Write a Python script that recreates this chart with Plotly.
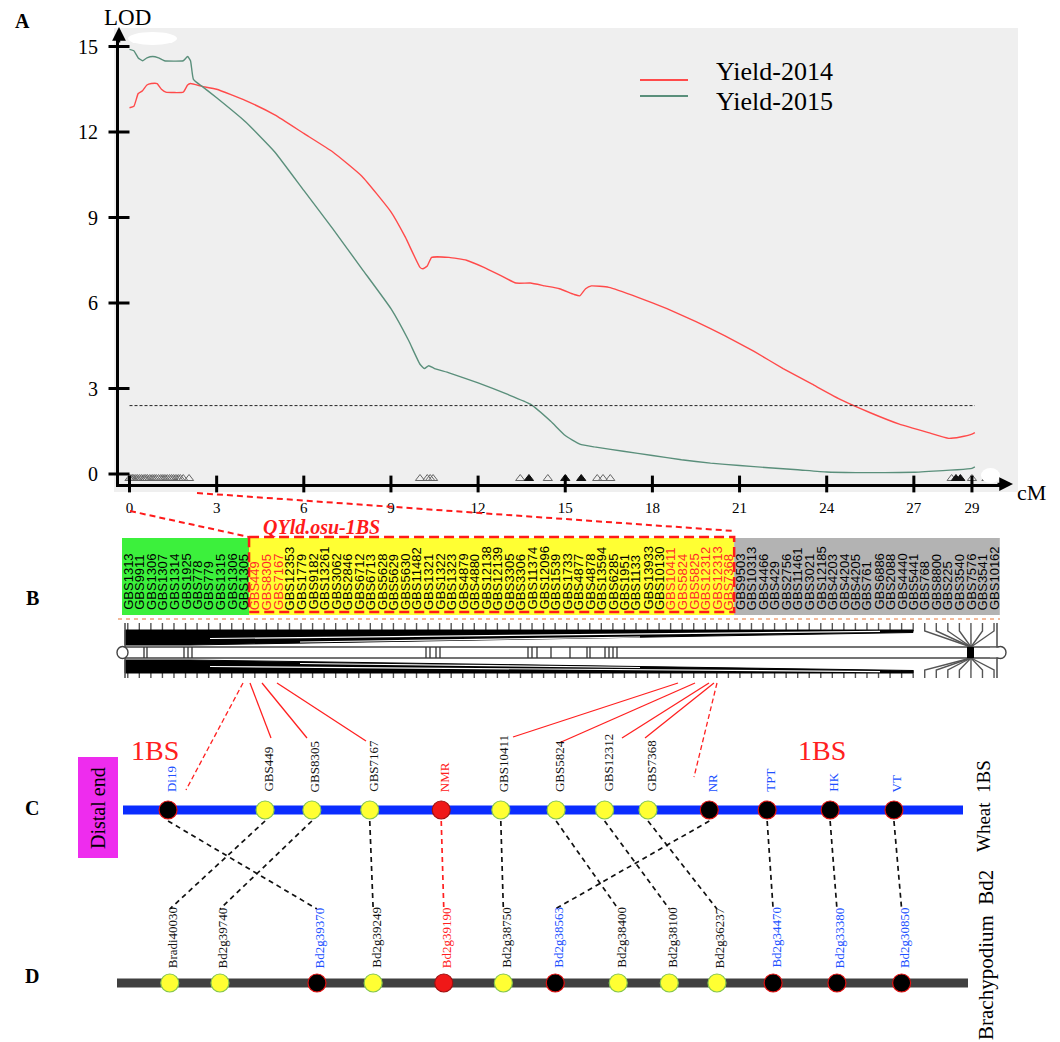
import plotly.graph_objects as go

W, H = 1060, 1042
SERIF = "Liberation Serif, Times New Roman, serif"
SANS = "Liberation Sans, Arial, sans-serif"

# ---------------- Panel A: LOD profiles on 1BS ----------------
cm_2014 = [0.0, 0.15, 0.3, 0.45, 0.6, 0.75, 0.95, 1.1, 1.25, 1.85, 2.0, 2.1, 2.5, 3.0, 4.0,
           5.0, 6.0, 7.0, 8.0, 9.0, 9.5, 10.0, 10.1, 10.25, 10.4, 11.0, 11.6, 12.2, 12.8,
           13.3, 13.8, 14.3, 14.8, 15.3, 15.5, 15.7, 15.9, 16.5, 17.5, 18.5, 19.5, 20.5,
           21.5, 22.5, 23.5, 24.5, 25.5, 26.5, 27.5, 28.2, 28.6, 29.0, 29.1]
lod_2014 = [12.85, 12.9, 13.35, 13.45, 13.65, 13.7, 13.7, 13.5, 13.4, 13.4, 13.65, 13.7, 13.6,
            13.5, 13.1, 12.6, 11.95, 11.3, 10.45, 9.2, 8.3, 7.25, 7.2, 7.3, 7.6, 7.6, 7.5,
            7.25, 6.95, 6.7, 6.7, 6.6, 6.5, 6.3, 6.25, 6.5, 6.6, 6.55, 6.2, 5.8, 5.35, 4.85,
            4.3, 3.7, 3.15, 2.6, 2.15, 1.75, 1.45, 1.25, 1.3, 1.4, 1.45]

cm_2015 = [0.0, 0.15, 0.3, 0.45, 0.6, 0.8, 1.0, 1.2, 1.85, 2.0, 2.1, 2.2, 2.5, 3.0, 4.0, 5.0,
           6.0, 7.0, 8.0, 9.0, 9.6, 10.0, 10.15, 10.3, 10.5, 11.0, 12.0, 13.0, 13.8, 14.5,
           15.0, 15.5, 16.0, 17.0, 18.0, 19.0, 20.0, 21.0, 22.0, 23.0, 24.0, 25.0, 26.0,
           27.0, 28.0, 28.5, 29.0, 29.1]
lod_2015 = [14.9, 14.85, 14.6, 14.5, 14.6, 14.65, 14.6, 14.5, 14.5, 14.65, 14.5, 13.85, 13.6,
            13.2, 12.35, 11.3, 9.95, 8.6, 7.2, 5.8, 4.7, 3.85, 3.7, 3.8, 3.7, 3.55, 3.2, 2.8,
            2.45, 1.85, 1.35, 1.05, 0.95, 0.8, 0.65, 0.5, 0.38, 0.3, 0.22, 0.15, 0.07, 0.05,
            0.05, 0.06, 0.12, 0.15, 0.2, 0.25]

lod_threshold = 2.4
threshold_span = [0.0, 29.1]

# genetic-map marker positions (cM) drawn as triangles on the axis
marker_cm = [0.0, 0.05, 0.1, 0.15, 0.22, 0.28, 0.35, 0.42, 0.5, 0.56, 0.62, 0.7, 0.78, 0.85,
             0.92, 1.0, 1.08, 1.15, 1.22, 1.3, 1.38, 1.45, 1.52, 1.6, 1.68, 1.75, 1.85, 2.05,
             10.0, 10.25, 10.35, 10.45, 13.45, 14.4, 16.1, 16.3, 16.55, 28.3, 29.0, 29.5]
marker_cm_solid = [13.75, 15.0, 15.55, 28.45, 28.6]

x_ticks = [0, 3, 6, 9, 12, 15, 18, 21, 24, 27, 29]
y_ticks = [0, 3, 6, 9, 12, 15]
series_names = ["Yield-2014", "Yield-2015"]
series_colors = ["#ff4a4a", "#5a8f7b"]

# ---------------- Panel B: GBS markers of the 1BS map ----------------
gbs_distal = ["GBS1313", "GBS9911", "GBS1306", "GBS1307", "GBS1314", "GBS1925", "GBS778",
              "GBS779", "GBS1315", "GBS1306", "GBS1305"]
gbs_qtl = ["GBS449", "GBS8305", "GBS7167", "GBS12353", "GBS1779", "GBS9182", "GBS13261",
           "GBS3062", "GBS2846", "GBS6712", "GBS6713", "GBS5628", "GBS5629", "GBS5630",
           "GBS11482", "GBS1321", "GBS1322", "GBS1323", "GBS4879", "GBS4880", "GBS12138",
           "GBS12139", "GBS3305", "GBS3306", "GBS11374", "GBS12096", "GBS1539", "GBS1733",
           "GBS4877", "GBS4878", "GBS13594", "GBS6285", "GBS1951", "GBS1133", "GBS13933",
           "GBS10130", "GBS10411", "GBS5824", "GBS5825", "GBS12312", "GBS12313", "GBS7368"]
gbs_proximal = ["GBS9503", "GBS10313", "GBS4466", "GBS429", "GBS2756", "GBS11461", "GBS3021",
                "GBS12185", "GBS4203", "GBS4204", "GBS4205", "GBS761", "GBS6886", "GBS2088",
                "GBS4440", "GBS5441", "GBS768", "GBS8800", "GBS225", "GBS3540", "GBS7576",
                "GBS3541", "GBS10162"]
gbs_highlight = ["GBS449", "GBS8305", "GBS7167", "GBS10411", "GBS5824", "GBS5825",
                 "GBS12312", "GBS12313", "GBS7368"]

# ---------------- Panels C and D: wheat 1BS vs Brachypodium Bd2 ----------------
wheat_markers = ["Di19", "GBS449", "GBS8305", "GBS7167", "NMR", "GBS10411", "GBS5824",
                 "GBS12312", "GBS7368", "NR", "TPT", "HK", "VT"]
wheat_pos = [6.0, 17.4, 22.9, 29.7, 38.1, 45.1, 51.6, 57.3, 62.4, 69.6, 76.4, 83.8, 91.3]
wheat_kind = ["gene", "gbs", "gbs", "gbs", "cand", "gbs", "gbs", "gbs", "gbs", "gene",
              "gene", "gene", "gene"]

bd2_genes = ["Bradi40030", "Bd2g39740", "Bd2g39370", "Bd2g39249", "Bd2g39190", "Bd2g38750",
             "Bd2g38563", "Bd2g38400", "Bd2g38100", "Bd2g36237", "Bd2g34470", "Bd2g33380",
             "Bd2g30850"]
bd2_pos = [6.2, 12.1, 23.5, 30.1, 38.4, 45.4, 51.5, 58.9, 64.9, 70.5, 77.1, 84.6, 92.2]
bd2_kind = ["gbs", "gbs", "gene", "gbs", "cand", "gbs", "gene", "gbs", "gbs", "gbs", "gene",
            "gene", "gene"]

# wheat marker index -> Bd2 gene index
synteny = [(0, 2), (1, 0), (2, 1), (3, 3), (4, 4), (5, 5), (6, 7), (7, 8), (8, 9), (9, 6),
           (10, 10), (11, 11), (12, 12)]

KIND_FILL = {"gbs": "#ffff33", "gene": "#000000", "cand": "#f01818"}
KIND_EDGE = {"gbs": "#86c64e", "gene": "#e01010", "cand": "#a01010"}
KIND_TEXT = {"gbs": "#111111", "gene": "#2050ff", "cand": "#ff2020"}

# ---------------- layout geometry (pixels) ----------------
AX_L, AX_R, AX_T, AX_B = 119, 1000, 36, 484
CM0_PX, PX_PER_CM = 129.5, 29.05
LOD0_PX, PX_PER_LOD = 474.0, 28.5
x_range = [(AX_L - CM0_PX) / PX_PER_CM, (AX_R - CM0_PX) / PX_PER_CM]
y_range = [(LOD0_PX - AX_B) / PX_PER_LOD, (LOD0_PX - AX_T) / PX_PER_LOD]
TRI_LOD = (LOD0_PX - 478.5) / PX_PER_LOD

COL_X0, COL_W = 122.0, 11.55
B_TOP, B_BOT = 538, 615
MAP_X0, MAP_X1 = 117, 968          # extent of the x3 (map position) axis
C_Y, D_Y = 810, 983


def px(x):
    return x / W


def py(y):
    return 1 - y / H


fig = go.Figure()

# ---- Panel A traces ----
for cms, lods, name, col in [(cm_2014, lod_2014, series_names[0], series_colors[0]),
                             (cm_2015, lod_2015, series_names[1], series_colors[1])]:
    fig.add_trace(go.Scatter(x=cms, y=lods, mode="lines", name=name,
                             line=dict(color=col, width=1.4, shape="spline", smoothing=0.4),
                             xaxis="x", yaxis="y"))
fig.add_trace(go.Scatter(x=threshold_span, y=[lod_threshold, lod_threshold], mode="lines",
                         line=dict(color="#222", width=1, dash="3px,2px"), xaxis="x", yaxis="y"))
fig.add_trace(go.Scatter(x=marker_cm, y=[TRI_LOD] * len(marker_cm), mode="markers",
                         marker=dict(symbol="triangle-up-open", size=8, color="#666",
                                     line=dict(color="#666", width=1)),
                         cliponaxis=False, xaxis="x", yaxis="y"))
fig.add_trace(go.Scatter(x=marker_cm_solid, y=[TRI_LOD] * len(marker_cm_solid), mode="markers",
                         marker=dict(symbol="triangle-up", size=8, color="#111",
                                     line=dict(color="#111", width=1)),
                         cliponaxis=False, xaxis="x", yaxis="y"))
# crossing tick marks on both axes
fig.add_trace(go.Scatter(x=[x_range[0]] * len(y_ticks), y=y_ticks, mode="markers",
                         marker=dict(symbol="line-ew", size=15, color="black",
                                     line=dict(color="black", width=3)),
                         cliponaxis=False, xaxis="x", yaxis="y"))
fig.add_trace(go.Scatter(x=x_ticks, y=[y_range[0]] * len(x_ticks), mode="markers",
                         marker=dict(symbol="line-ns", size=12, color="black",
                                     line=dict(color="black", width=3)),
                         cliponaxis=False, xaxis="x", yaxis="y"))

shapes = []
annotations = []

# panel A background and axis arrows
shapes.append(dict(type="rect", xref="paper", yref="paper", x0=px(114), x1=px(1018),
                   y0=py(492), y1=py(28), fillcolor="#efefef", line=dict(width=0),
                   layer="below"))
shapes.append(dict(type="circle", xref="x2", yref="y2", x0=128, x1=177, y0=32, y1=45,
                   fillcolor="white", line=dict(width=0)))
shapes.append(dict(type="circle", xref="x2", yref="y2", x0=981, x1=1000, y0=468, y1=483,
                   fillcolor="white", line=dict(width=0)))
annotations.append(dict(xref="x2", yref="y2", axref="x2", ayref="y2", x=1013, y=484,
                        ax=996, ay=484, text="", showarrow=True, arrowhead=2,
                        arrowsize=1.1, arrowwidth=2.5, arrowcolor="black"))
annotations.append(dict(xref="x2", yref="y2", axref="x2", ayref="y2", x=119, y=27,
                        ax=119, ay=44, text="", showarrow=True, arrowhead=2,
                        arrowsize=1.1, arrowwidth=2.5, arrowcolor="black"))
annotations.append(dict(xref="x2", yref="y2", x=127, y=17, text="LOD", showarrow=False,
                        font=dict(family=SERIF, size=23, color="black")))
annotations.append(dict(xref="x2", yref="y2", x=1031, y=492, text="cM", showarrow=False,
                        font=dict(family=SERIF, size=22, color="black")))

# legend
for i, (name, col) in enumerate(zip(series_names, series_colors)):
    ly = 80 + 16 * i
    shapes.append(dict(type="line", xref="x2", yref="y2", x0=640, x1=688, y0=ly, y1=ly,
                       line=dict(color=col, width=2)))
    annotations.append(dict(xref="x2", yref="y2", x=714, y=71 + 30 * i, text=name,
                            showarrow=False, xanchor="left", yanchor="middle",
                            font=dict(family=SERIF, size=26, color="black")))

# panel letters
for letter, (lx, ly) in zip("ABCD", [(22, 21), (32, 598), (32, 808), (32, 976)]):
    annotations.append(dict(xref="x2", yref="y2", x=lx, y=ly, text="<b>%s</b>" % letter,
                            showarrow=False, font=dict(family=SERIF, size=20, color="black")))

# ---- Panel B: marker name columns ----
all_gbs = gbs_distal + gbs_qtl + gbs_proximal
zones = [(0, len(gbs_distal), "#3cf03c"),
         (len(gbs_distal), len(gbs_distal) + len(gbs_qtl), "#ffff33"),
         (len(gbs_distal) + len(gbs_qtl), len(all_gbs), "#b3b3b3")]
for a, b, col in zones:
    shapes.append(dict(type="rect", xref="x2", yref="y2", x0=COL_X0 + a * COL_W,
                       x1=COL_X0 + b * COL_W, y0=B_TOP, y1=B_BOT, fillcolor=col,
                       line=dict(width=0), layer="below"))
col_centers = [COL_X0 + (i + 0.5) * COL_W for i in range(len(all_gbs))]
for name, cx in zip(all_gbs, col_centers):
    annotations.append(dict(xref="x2", yref="y2", x=cx, y=612, text=name, textangle=-90,
                            showarrow=False, xanchor="center", yanchor="bottom",
                            font=dict(family=SANS, size=13,
                                      color="#ff2a2a" if name in gbs_highlight else "black")))

qtl_x0 = COL_X0 + len(gbs_distal) * COL_W
qtl_x1 = COL_X0 + (len(gbs_distal) + len(gbs_qtl)) * COL_W
shapes.append(dict(type="rect", xref="x2", yref="y2", x0=qtl_x0, x1=qtl_x1, y0=537, y1=612,
                   line=dict(color="#ff1a1a", width=2.5, dash="10px,5px")))
shapes.append(dict(type="line", xref="x2", yref="y2", x0=130, y0=511, x1=qtl_x0, y1=537,
                   line=dict(color="#ff1a1a", width=2, dash="6px,4px")))
shapes.append(dict(type="line", xref="x2", yref="y2", x0=197, y0=493, x1=qtl_x1, y1=531,
                   line=dict(color="#ff1a1a", width=2, dash="6px,4px")))
annotations.append(dict(xref="x2", yref="y2", x=321, y=527, text="<b><i>QYld.osu-1BS</i></b>",
                        showarrow=False, font=dict(family=SERIF, size=20, color="#ff1a1a")))
shapes.append(dict(type="line", xref="x2", yref="y2", x0=118, x1=1000, y0=619, y1=619,
                   line=dict(color="#eea27a", width=1.5, dash="4px,4px")))

# ---- Panel B: linkage-map drawing ----
T0, T1 = 623, 631
BAND0, BAND1 = 647, 658
U0, U1 = 670, 678
tx, ty = [], []
for cx in col_centers:
    if cx > 920:
        tx += [cx, cx, 971, None, cx, cx, 971, None]
        ty += [T0, T1, BAND0, None, U1, U0, BAND1, None]
    else:
        tx += [cx, cx, None, cx, cx, None]
        ty += [T0, T1, None, U0, U1, None]
fig.add_trace(go.Scatter(x=tx, y=ty, mode="lines", line=dict(color="#555", width=1.4),
                         xaxis="x2", yaxis="y2"))
# converging black wedges above and below the chromosome
fig.add_trace(go.Scatter(x=[125, 913, 913, 190, 125, 125], y=[630, 630, 632.5, 645, 645, 630],
                         fill="toself", fillcolor="black", mode="lines",
                         line=dict(color="black", width=1), xaxis="x2", yaxis="y2"))
fig.add_trace(go.Scatter(x=[125, 190, 913, 913, 125, 125], y=[660, 660, 670.5, 673, 673, 660],
                         fill="toself", fillcolor="black", mode="lines",
                         line=dict(color="black", width=1), xaxis="x2", yaxis="y2"))
fig.add_trace(go.Scatter(x=[210, 880, None, 300, 640, None, 210, 880, None, 300, 640],
                         y=[638.5, 631.4, None, 642, 637, None, 666.5, 671.6, None, 663.5, 667.5],
                         mode="lines", line=dict(color="white", width=1.2),
                         xaxis="x2", yaxis="y2"))
# chromosome band
fig.add_trace(go.Scatter(x=[125, 1000, None, 125, 1000], y=[BAND0, BAND0, None, BAND1, BAND1],
                         mode="lines", line=dict(color="#444", width=1.6),
                         xaxis="x2", yaxis="y2"))
bars_x = [144, 147, 184, 188, 192, 426, 430, 436, 440, 528, 532, 537, 551, 570, 587, 590,
          605, 609, 613, 617]
bx, by = [], []
for b in bars_x:
    bx += [b, b, None]
    by += [BAND0, BAND1, None]
fig.add_trace(go.Scatter(x=bx, y=by, mode="lines", line=dict(color="#333", width=1.3),
                         xaxis="x2", yaxis="y2"))
fig.add_trace(go.Scatter(x=[125, 125, None, 997, 997], y=[T0, U1, None, T0, U1], mode="lines",
                         line=dict(color="#555", width=1.6), xaxis="x2", yaxis="y2"))
shapes.append(dict(type="rect", xref="x2", yref="y2", x0=967, x1=974, y0=BAND0, y1=BAND1,
                   fillcolor="black", line=dict(width=0)))
shapes.append(dict(type="circle", xref="x2", yref="y2", x0=117, x1=128, y0=BAND0 - 0.5,
                   y1=BAND1 + 0.5, fillcolor="white", line=dict(color="#444", width=1.4)))
shapes.append(dict(type="circle", xref="x2", yref="y2", x0=995, x1=1006, y0=BAND0 - 0.5,
                   y1=BAND1 + 0.5, fillcolor="white", line=dict(color="#444", width=1.4)))
shapes.append(dict(type="rect", xref="x2", yref="y2", x0=990, x1=1000, y0=BAND0 + 0.8,
                   y1=BAND1 - 0.8, fillcolor="white", line=dict(width=0)))

# ---- links from the QTL map to the wheat 1BS markers ----
b_to_c = [((243, 683), (186, 790), True), ((250, 683), (271, 738), False),
          ((262, 683), (307, 738), False), ((277, 683), (366, 741), False),
          ((678, 683), (513, 737), False), ((695, 683), (559, 743), False),
          ((709, 683), (622, 738), False), ((714, 683), (645, 738), False),
          ((717, 683), (694, 777), True)]
for (x0, y0), (x1, y1), dashed in b_to_c:
    shapes.append(dict(type="line", xref="x2", yref="y2", x0=x0, y0=y0, x1=x1, y1=y1,
                       line=dict(color="#ff2020", width=1.3,
                                 dash="5px,3px" if dashed else "solid")))

# ---- Panel C ----
shapes.append(dict(type="rect", xref="x2", yref="y2", x0=78, x1=118, y0=757, y1=858,
                   fillcolor="#ee2cee", line=dict(width=0)))
annotations.append(dict(xref="x2", yref="y2", x=98, y=808, text="Distal end", textangle=-90,
                        showarrow=False, font=dict(family=SERIF, size=20, color="black")))
annotations.append(dict(xref="x2", yref="y2", x=155, y=750, text="1BS", showarrow=False,
                        font=dict(family=SERIF, size=28, color="#ff2020")))
annotations.append(dict(xref="x2", yref="y2", x=822, y=750, text="1BS", showarrow=False,
                        font=dict(family=SERIF, size=28, color="#ff2020")))
shapes.append(dict(type="line", xref="x2", yref="y2", x0=123, x1=963, y0=C_Y, y1=C_Y,
                   line=dict(color="#0a2cff", width=9), layer="below"))
annotations.append(dict(xref="x2", yref="y2", x=983, y=806, text="Wheat  1BS", textangle=-90,
                        showarrow=False, font=dict(family=SERIF, size=19, color="black")))

# ---- Panel D ----
shapes.append(dict(type="line", xref="x2", yref="y2", x0=117, x1=968, y0=D_Y, y1=D_Y,
                   line=dict(color="#404040", width=9), layer="below"))
annotations.append(dict(xref="x2", yref="y2", x=986, y=955, text="Brachypodium  Bd2",
                        textangle=-90, showarrow=False,
                        font=dict(family=SERIF, size=21, color="black")))

# synteny connectors
for wi, bi in synteny:
    red = wheat_kind[wi] == "cand"
    fig.add_trace(go.Scatter(x=[wheat_pos[wi], bd2_pos[bi]], y=[821, 909], mode="lines",
                             line=dict(color="#ff2020" if red else "#111", width=1.7,
                                       dash="5px,4px"),
                             xaxis="x3", yaxis="y2"))

for pos_list, kinds, yrow in [(wheat_pos, wheat_kind, C_Y), (bd2_pos, bd2_kind, D_Y)]:
    fig.add_trace(go.Scatter(x=pos_list, y=[yrow] * len(pos_list), mode="markers",
                             marker=dict(size=18, color=[KIND_FILL[k] for k in kinds],
                                         line=dict(color=[KIND_EDGE[k] for k in kinds],
                                                   width=1.2)),
                             cliponaxis=False, xaxis="x3", yaxis="y2"))

for names, pos_list, kinds, ybase in [(wheat_markers, wheat_pos, wheat_kind, 794),
                                      (bd2_genes, bd2_pos, bd2_kind, 970)]:
    for nm, p, k in zip(names, pos_list, kinds):
        annotations.append(dict(xref="x3", yref="y2", x=p, y=ybase, xshift=3, text=nm,
                                textangle=-90, showarrow=False, xanchor="center",
                                yanchor="bottom",
                                font=dict(family=SERIF, size=13, color=KIND_TEXT[k])))

fig.update_layout(
    width=W, height=H, autosize=False,
    margin=dict(l=0, r=0, t=0, b=0),
    paper_bgcolor="white", plot_bgcolor="rgba(0,0,0,0)",
    showlegend=False,
    shapes=shapes, annotations=annotations,
    xaxis=dict(domain=[px(AX_L), px(AX_R)], range=x_range, anchor="y",
               tickvals=x_ticks, ticktext=[str(t) for t in x_ticks], ticks="",
               showgrid=False, zeroline=False, showline=True, linecolor="black", linewidth=3,
               tickfont=dict(family=SERIF, size=15, color="black"), ticklabelstandoff=8,
               fixedrange=True),
    yaxis=dict(domain=[py(AX_B), py(AX_T)], range=y_range, anchor="x",
               tickvals=y_ticks, ticktext=[str(t) for t in y_ticks], ticks="",
               showgrid=False, zeroline=False, showline=True, linecolor="black", linewidth=3,
               tickfont=dict(family=SERIF, size=20, color="black"), ticklabelstandoff=14,
               fixedrange=True),
    xaxis2=dict(domain=[0, 1], range=[0, W], anchor="y2", visible=False, fixedrange=True),
    yaxis2=dict(domain=[0, 1], range=[H, 0], anchor="x2", visible=False, fixedrange=True),
    xaxis3=dict(domain=[px(MAP_X0), px(MAP_X1)], range=[0, 100], anchor="y2", visible=False,
                fixedrange=True),
)

fig.write_html("out.html")
